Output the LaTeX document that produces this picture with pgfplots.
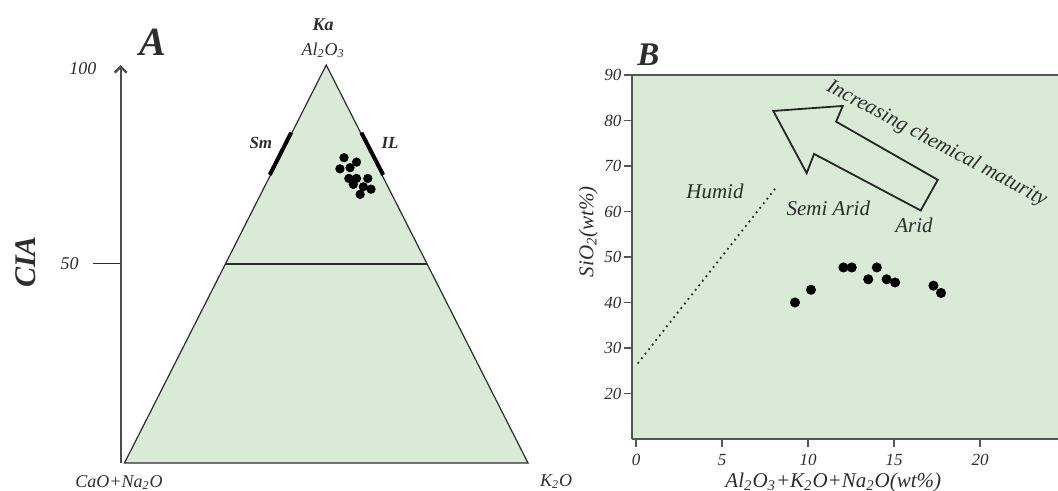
\documentclass[border=0pt]{standalone}
\usepackage{fontspec}
\setmainfont{Liberation Serif}
\usepackage{pgfplots}
\pgfplotsset{compat=1.18}
\usetikzlibrary{arrows.meta}
\definecolor{bggreen}{RGB}{217,234,215}
\definecolor{ink}{RGB}{45,45,45}
\definecolor{frame}{RGB}{85,85,85}
\newcommand{\fs}[1]{\fontsize{#1}{#1}\selectfont}
\begin{document}
\begin{tikzpicture}
\useasboundingbox (0,0) rectangle (529pt,245.5pt);
% ---------------- panel A ----------------
\begin{axis}[
  at={(60.35pt,14pt)}, anchor=south west, scale only axis,
  width=203.65pt, height=199pt,
  xmin=-0.94, xmax=100, ymin=0, ymax=100,
  axis x line=none, axis y line*=left,
  y axis line style={-{Straight Barb[length=3pt,width=6pt]}, line width=1.2pt, draw=gray!60!black},
  ytick={50}, yticklabels={50},
  tick align=outside, major tick length=14pt,
  ytick style={draw=ink, line width=0.5pt},
  yticklabel style={font=\fs{9}\itshape, text=ink, xshift=-3.5pt},
  clip=false,
]
\addplot[fill=bggreen, draw=ink, line width=0.6pt] coordinates {(0,0) (50,100) (100,0)} -- cycle;
\addplot[draw=ink, line width=0.6pt] coordinates {(25,50) (75,50)};
\addplot[black, line width=2pt] coordinates {(36.0,72.4) (41.3,83)};
\addplot[black, line width=2pt] coordinates {(58.7,83) (64.1,72.4)};
\addplot[only marks, mark=*, mark size=2.1pt, black] coordinates {
 (54.4,76.7) (57.5,75.6) (53.4,73.9) (55.9,74.2) (55.6,71.5) (57.5,71.5)
 (60.3,71.5) (56.7,70.0) (59.2,69.4) (61.1,68.8) (58.4,67.5)};
\node[font=\fs{8.5}\bfseries\itshape, text=ink] at (axis cs:33.8,80.4) {Sm};
\node[font=\fs{8.5}\bfseries\itshape, text=ink] at (axis cs:65.8,80.4) {IL};
\node[font=\fs{9}\itshape, text=ink] at (axis cs:-10.3,99.2) {100};
\end{axis}
% ---------------- panel B ----------------
\begin{axis}[
  at={(315.85pt,26pt)}, anchor=south west, scale only axis,
  width=213.15pt, height=182pt,
  xmin=-0.25, xmax=24.53, ymin=10, ymax=90,
  axis x line*=bottom, axis y line*=left,
  axis line style={draw=frame, line width=0.8pt},
  axis background/.style={fill=bggreen},
  xtick={0,5,10,15,20}, ytick={20,30,...,90},
  tick align=outside, major tick length=4pt,
  tick style={draw=frame, line width=0.6pt},
  /pgf/number format/assume math mode=true,
  ticklabel style={font=\fs{8.5}\itshape, text=ink},
  yticklabel style={inner xsep=1pt},
  xlabel={Al\textsubscript{2}O\textsubscript{3}+K\textsubscript{2}O+Na\textsubscript{2}O(wt\%)},
  xlabel style={at={([yshift=-21.5pt]rel axis cs:0.473,0)}, anchor=center, font=\fs{10.5}\itshape, text=ink},
  ylabel={SiO\textsubscript{2}(wt\%)},
  ylabel style={at={([xshift=-21.7pt]rel axis cs:0,0.5695)}, anchor=center, font=\fs{10.5}\itshape, text=ink},
  clip=false,
]
\addplot[ink, dotted, line width=0.9pt] coordinates {(0.1,26.6) (8.21,65.6)};
\addplot[black!85, line width=0.9pt] coordinates {(7.98,82.1) (12.02,83.2) (11.63,79.75) (17.54,66.96) (16.55,60.22) (10.35,72.66) (9.92,68.43)} -- cycle;
\addplot[only marks, mark=*, mark size=2.3pt, black] coordinates {
 (9.24,40.0) (10.17,42.8) (12.06,47.7) (12.54,47.7) (13.5,45.1)
 (14.0,47.7) (14.57,45.1) (15.06,44.4) (17.29,43.7) (17.73,42.1)};
\node[font=\fs{10.5}\itshape, text=ink] at (axis cs:4.59,64.5) {Humid};
\node[font=\fs{10.5}\itshape, text=ink] at (axis cs:11.18,60.75) {Semi Arid};
\node[font=\fs{10.5}\itshape, text=ink] at (axis cs:16.16,56.9) {Arid};
\node[font=\fs{10.5}\itshape, text=ink, rotate=-28] at (axis cs:17.48,74.86) {Increasing chemical maturity};
\draw[frame, line width=0.8pt] (rel axis cs:0,1) -- (rel axis cs:1,1);
\end{axis}
% ---------------- outer labels ----------------
\node[font=\fs{20}\bfseries\itshape, text=ink] at (76.5pt,224.5pt) {A};
\node[font=\fs{16.5}\bfseries\itshape, text=ink] at (324.15pt,218pt) {B};
\node[font=\fs{15}\bfseries\itshape, text=ink, rotate=90] at (12.9pt,114.5pt) {CIA};
\node[font=\fs{9}\bfseries\itshape, text=ink] at (161.5pt,233pt) {Ka};
\node[font=\fs{9}\itshape, text=ink] at (161.5pt,220.5pt) {Al\textsubscript{2}O\textsubscript{3}};
\node[font=\fs{9}\itshape, text=ink] at (59.5pt,4.4pt) {CaO+Na\textsubscript{2}O};
\node[font=\fs{9}\itshape, text=ink] at (278pt,4.65pt) {K\textsubscript{2}O};
\end{tikzpicture}
\end{document}
